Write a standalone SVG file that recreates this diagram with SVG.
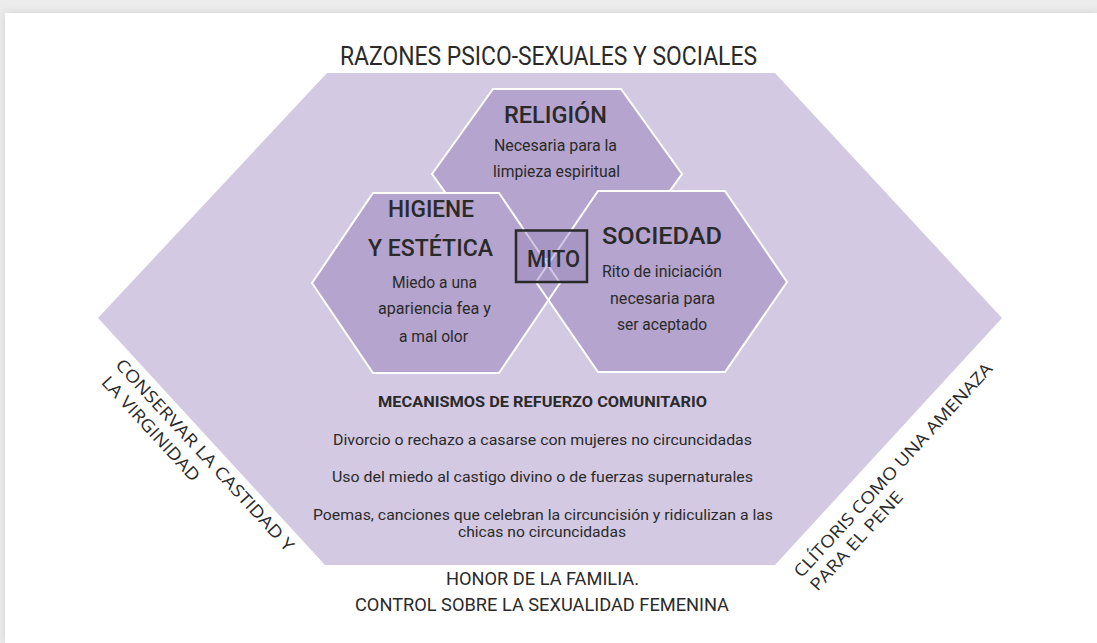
<svg xmlns="http://www.w3.org/2000/svg" width="1097" height="643" viewBox="0 0 1097 643">
  <defs>
    <filter id="pageShadow" x="-5%" y="-5%" width="110%" height="110%">
      <feDropShadow dx="0" dy="0" stdDeviation="4" flood-color="#000" flood-opacity="0.12"/>
    </filter>
    <style>
      .big { fill: #d3c9e2; }
      .hexfill { fill: #b5a4cd; }
      .hexstroke { fill: none; stroke: #ffffff; stroke-width: 2; stroke-linejoin: miter; }
      .t { font-family: Roboto, "DejaVu Sans", sans-serif; fill: #2a2a2a; }
      .head { font-size: 23px; font-weight: 500; }
      .body { font-size: 16px; }
      .list { font-size: 15.5px; }
      .corner { font-family: "Open Sans", "Liberation Sans", sans-serif; font-size: 17px; fill: #2a2a2a; }
    </style>
  </defs>

  <rect x="0" y="0" width="1097" height="643" fill="#ececec"/>
  <rect x="5" y="13" width="1092" height="630" fill="#ffffff" filter="url(#pageShadow)"/>

  <g id="outer">
    <polygon class="big" points="327,73 775,73 1002,318 775,565 325,565 98,318"/>
  </g>

  <g id="religion">
    <polygon class="hexfill" points="432,174 493,89 621,89 682,174 621,259 493,259"/>
    <polygon class="hexstroke" points="432,174 493,89 621,89 682,174 621,259 493,259"/>
  </g>

  <g id="higiene">
    <polygon class="hexfill" points="312,283 373,193 499,193 560,283 499,373 373,373"/>
  </g>
  <g id="sociedad">
    <polygon class="hexfill" points="536,282 598,191 725,191 787,282 725,372 598,372"/>
  </g>
  <g id="connectors">
    <polygon class="hexstroke" points="312,283 373,193 499,193 560,283 499,373 373,373"/>
    <polygon class="hexstroke" points="536,282 598,191 725,191 787,282 725,372 598,372"/>
  </g>

  <g id="mito">
    <rect x="516" y="230.5" width="71" height="51.5" fill="#9a85bd" fill-opacity="0.45" stroke="#2a2a2a" stroke-width="2.5"/>
    <text class="t head" x="527" y="267" font-size="22" textLength="53" lengthAdjust="spacingAndGlyphs">MITO</text>
  </g>

  <g id="title">
    <text class="t" x="340" y="65" font-size="25" textLength="417" lengthAdjust="spacingAndGlyphs">RAZONES PSICO-SEXUALES Y SOCIALES</text>
  </g>

  <g id="religion-text">
    <text class="t head" x="504" y="123" font-size="22" textLength="103" lengthAdjust="spacingAndGlyphs">RELIGIÓN</text>
    <text class="t body" x="494" y="151" textLength="123" lengthAdjust="spacingAndGlyphs">Necesaria para la</text>
    <text class="t body" x="493" y="177" textLength="127" lengthAdjust="spacingAndGlyphs">limpieza espiritual</text>
  </g>

  <g id="higiene-text">
    <text class="t head" x="388" y="217" textLength="86" lengthAdjust="spacingAndGlyphs">HIGIENE</text>
    <text class="t head" x="368" y="256" textLength="125" lengthAdjust="spacingAndGlyphs">Y ESTÉTICA</text>
    <text class="t body" x="392" y="288" textLength="85" lengthAdjust="spacingAndGlyphs">Miedo a una</text>
    <text class="t body" x="378" y="314" textLength="113" lengthAdjust="spacingAndGlyphs">apariencia fea y</text>
    <text class="t body" x="399" y="342" textLength="69" lengthAdjust="spacingAndGlyphs">a mal olor</text>
  </g>

  <g id="sociedad-text">
    <text class="t head" x="602" y="244" font-size="24" textLength="120" lengthAdjust="spacingAndGlyphs">SOCIEDAD</text>
    <text class="t body" x="602" y="277" textLength="120" lengthAdjust="spacingAndGlyphs">Rito de iniciación</text>
    <text class="t body" x="610" y="304" textLength="105" lengthAdjust="spacingAndGlyphs">necesaria para</text>
    <text class="t body" x="617" y="330" textLength="90" lengthAdjust="spacingAndGlyphs">ser aceptado</text>
  </g>

  <g id="mecanismos">
    <text class="t" x="378" y="407" font-size="15" font-weight="700" textLength="329" lengthAdjust="spacingAndGlyphs">MECANISMOS DE REFUERZO COMUNITARIO</text>
    <text class="t list" x="333" y="445" textLength="419" lengthAdjust="spacingAndGlyphs">Divorcio o rechazo a casarse con mujeres no circuncidadas</text>
    <text class="t list" x="332" y="482" textLength="421" lengthAdjust="spacingAndGlyphs">Uso del miedo al castigo divino o de fuerzas supernaturales</text>
    <text class="t list" x="313" y="520" textLength="460" lengthAdjust="spacingAndGlyphs">Poemas, canciones que celebran la circuncisión y ridiculizan a las</text>
    <text class="t list" x="458" y="537" textLength="168" lengthAdjust="spacingAndGlyphs">chicas no circuncidadas</text>
  </g>

  <g id="honor">
    <text class="t" x="446" y="585" font-size="18" textLength="193" lengthAdjust="spacingAndGlyphs">HONOR DE LA FAMILIA.</text>
    <text class="t" x="355" y="611" font-size="18" textLength="374" lengthAdjust="spacingAndGlyphs">CONTROL SOBRE LA SEXUALIDAD FEMENINA</text>
  </g>

  <g id="castidad" transform="translate(205,455) rotate(47.4)">
    <text class="corner" x="-127" y="6" textLength="254" lengthAdjust="spacingAndGlyphs">CONSERVAR LA CASTIDAD Y</text>
    <text class="corner" x="-124" y="28" textLength="136" lengthAdjust="spacingAndGlyphs">LA VIRGINIDAD</text>
  </g>

  <g id="clitoris" transform="translate(893,470) rotate(-47.4)">
    <text class="corner" x="-142" y="6" textLength="284" lengthAdjust="spacingAndGlyphs">CLÍTORIS COMO UNA AMENAZA</text>
    <text class="corner" x="-141" y="27" textLength="128" lengthAdjust="spacingAndGlyphs">PARA EL PENE</text>
  </g>
</svg>
